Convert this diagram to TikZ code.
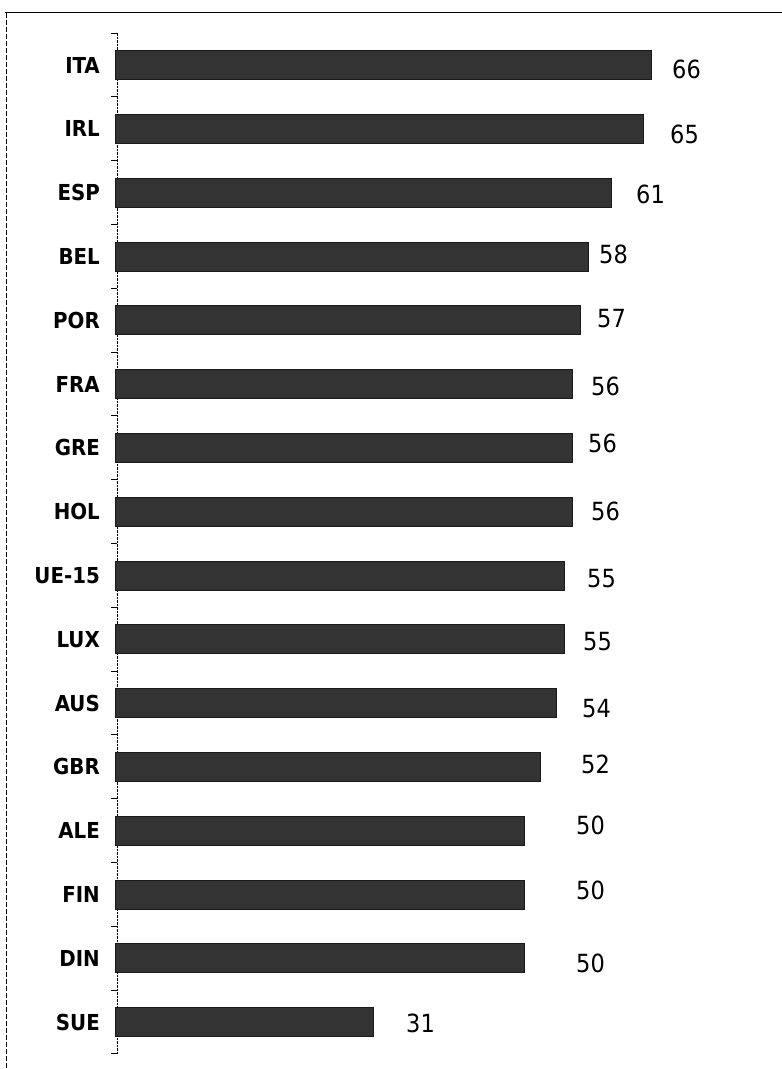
\documentclass[tikz,border=0pt]{standalone}
\usepackage{fontspec}
\newfontfamily\condfont{DejaVu Sans Condensed}
\tikzset{
  barbox/.style={fill=black!80, draw=black!90, line width=0.6pt, inner sep=0pt, minimum height=29pt, anchor=west},
  catlabel/.style={font=\condfont\bfseries\fontsize{22}{25}\selectfont, inner sep=0pt, anchor=base east},
  numlabel/.style={font=\condfont\fontsize{25}{29}\selectfont, inner sep=0pt, anchor=base west},
  axisline/.style={line width=0.7pt, dash pattern=on 2.5pt off 1pt},
  frameline/.style={line width=0.9pt}
}
\begin{document}
\begin{tikzpicture}[x=1pt,y=-1pt]
\useasboundingbox (0,0) rectangle (782,1069);
% frame
\coordinate (fTL) at (5,12.5);
\coordinate (fTR) at (782,12.5);
\coordinate (fBL) at (6,1069);
\draw[frameline] (fTL) -- (fTR);
\draw[frameline, dash pattern=on 5pt off 2pt] (6,12.5) -- (fBL);
% axis
\coordinate (axT) at (117,33);
\coordinate (axB) at (117,1054);
\draw[axisline] (axT) -- (axB);
\foreach \k in {0,...,16}{
  \pgfmathsetmacro\ty{33+63.8*\k}
  \coordinate (tk\k) at (117,\ty);
  \coordinate (tl\k) at (111,\ty);
  \draw[line width=0.7pt] (tl\k) -- (tk\k);
}
% bars, labels, values
\foreach \n/\v/\nx/\ny [count=\i from 0] in {
  ITA/66/672/78, IRL/65/670/143, ESP/61/636/203, BEL/58/599/263,
  POR/57/597/327, FRA/56/591/395, GRE/56/588/452, HOL/56/591/520,
  UE-15/55/587/587, LUX/55/583/650, AUS/54/582/717, GBR/52/581/773,
  ALE/50/576/834, FIN/50/576/899, DIN/50/576/972, SUE/31/406/1032}{
  \pgfmathsetmacro\yc{65+63.8*\i}
  \pgfmathsetmacro\bw{127+7.94*\v-115}
  \node[barbox, minimum width=\bw pt] (bar\i) at (115,\yc) {};
  \node[catlabel] (lab\i) at (100,{\yc+8}) {\n};
  \node[numlabel] (val\i) at (\nx,\ny) {\v};
}
\end{tikzpicture}
\end{document}
